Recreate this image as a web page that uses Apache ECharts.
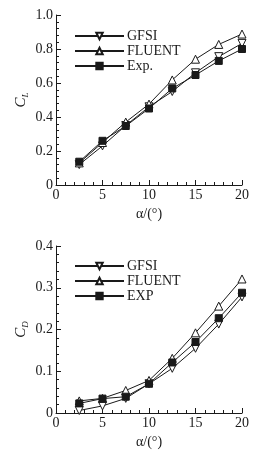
<!DOCTYPE html>
<html>
<head>
<meta charset="utf-8">
<script src="https://cdn.jsdelivr.net/npm/echarts@6/dist/echarts.min.js"></script>
<style>
  html, body { margin: 0; padding: 0; background: #fff; }
  #chart { width: 266px; height: 450px; }
</style>
</head>
<body>
<div id="chart"></div>
<script>
// angle of attack, degrees
const alpha = [2.5, 5, 7.5, 10, 12.5, 15, 17.5, 20]

// lift coefficient
const clGFSI = [0.12, 0.23, 0.35, 0.46, 0.55, 0.66, 0.755, 0.833]
const clFLUENT = [0.13, 0.25, 0.37, 0.476, 0.618, 0.74, 0.827, 0.888]
const clExp = [0.137, 0.26, 0.347, 0.45, 0.568, 0.647, 0.73, 0.8]

// drag coefficient
const cdGFSI = [0.006, 0.017, 0.035, 0.07, 0.107, 0.155, 0.213, 0.278]
const cdFLUENT = [0.029, 0.035, 0.054, 0.078, 0.131, 0.192, 0.256, 0.321]
const cdEXP = [0.023, 0.0345, 0.039, 0.07, 0.121, 0.17, 0.227, 0.288]

const FONT = '"Liberation Serif", "DejaVu Serif", serif'
const INK = '#1a1a1a'

function pairs(ys) {
  return alpha.map((a, i) => [a, ys[i]])
}

function xAxisOf(gridIndex) {
  return {
    type: 'value',
    gridIndex: gridIndex,
    min: 0,
    max: 20,
    interval: 5,
    name: 'α/(°)',
    nameLocation: 'middle',
    nameGap: 22,
    nameMoveOverlap: false,
    nameTextStyle: { fontFamily: FONT, fontSize: 14, color: INK, fontStyle: 'normal' },
    axisLine: { lineStyle: { color: INK, width: 1 } },
    axisTick: { inside: true, length: 5, lineStyle: { color: INK } },
    minorTick: { show: true, splitNumber: 5, length: 3, lineStyle: { color: INK } },
    axisLabel: { fontFamily: FONT, fontSize: 14, color: INK, margin: 3 },
    splitLine: { show: false }
  }
}

function yAxisOf(gridIndex, max, interval, sub) {
  return {
    type: 'value',
    gridIndex: gridIndex,
    min: 0,
    max: max,
    interval: interval,
    name: '{c|C}{s|' + sub + '}',
    nameLocation: 'middle',
    nameRotate: 90,
    nameGap: 26,
    nameMoveOverlap: false,
    nameTextStyle: {
      rich: {
        c: { fontFamily: FONT, fontSize: 15, fontStyle: 'italic', color: INK, lineHeight: 18 },
        s: { fontFamily: FONT, fontSize: 9, fontStyle: 'italic', color: INK, verticalAlign: 'bottom', lineHeight: 18, padding: [6, 0, 0, 0] }
      }
    },
    axisLine: { show: true, lineStyle: { color: INK, width: 1 } },
    axisTick: { inside: true, length: 5, lineStyle: { color: INK } },
    minorTick: { show: true, splitNumber: 5, length: 3, lineStyle: { color: INK } },
    axisLabel: {
      fontFamily: FONT, fontSize: 14, color: INK, margin: 3,
      formatter: v => (v === 0 ? '0' : v.toFixed(1))
    },
    splitLine: { show: false }
  }
}

function seriesOf(name, data, idx, kind) {
  const s = {
    name: name,
    type: 'line',
    xAxisIndex: idx,
    yAxisIndex: idx,
    data: pairs(data),
    lineStyle: { color: INK, width: 1 },
    symbolSize: 8,
    itemStyle: { color: '#fff', borderColor: INK, borderWidth: 1 },
    animation: false
  }
  if (kind === 'down') {
    s.symbol = 'triangle'
    s.symbolRotate = 180
  } else if (kind === 'up') {
    s.symbol = 'triangle'
  } else {
    s.symbol = 'rect'
    s.symbolSize = 7
    s.itemStyle = { color: INK, borderColor: INK, borderWidth: 1 }
  }
  return s
}

function legendOf(top, names) {
  return {
    orient: 'vertical',
    left: 69,
    top: top,
    itemWidth: 49,
    itemHeight: 8,
    itemGap: 1,
    data: names,
    textStyle: { fontFamily: FONT, fontSize: 14, color: INK, padding: [0, 0, 0, -2] },
    selectedMode: false
  }
}

const chart = echarts.init(document.getElementById('chart'), null, { renderer: 'canvas' })
chart.setOption({
  backgroundColor: '#fff',
  animation: false,
  grid: [
    { left: 56, top: 15, width: 186, height: 170 },
    { left: 56, top: 246, width: 186, height: 170 }
  ],
  legend: [
    legendOf(24, ['GFSI', 'FLUENT', 'Exp.']),
    legendOf(254, ['GFSI ', 'FLUENT ', 'EXP'])
  ],
  xAxis: [xAxisOf(0), xAxisOf(1)],
  yAxis: [yAxisOf(0, 1, 0.2, 'L'), yAxisOf(1, 0.4, 0.1, 'D')],
  series: [
    seriesOf('GFSI', clGFSI, 0, 'down'),
    seriesOf('FLUENT', clFLUENT, 0, 'up'),
    seriesOf('Exp.', clExp, 0, 'square'),
    seriesOf('GFSI ', cdGFSI, 1, 'down'),
    seriesOf('FLUENT ', cdFLUENT, 1, 'up'),
    seriesOf('EXP', cdEXP, 1, 'square')
  ]
})
</script>
</body>
</html>
